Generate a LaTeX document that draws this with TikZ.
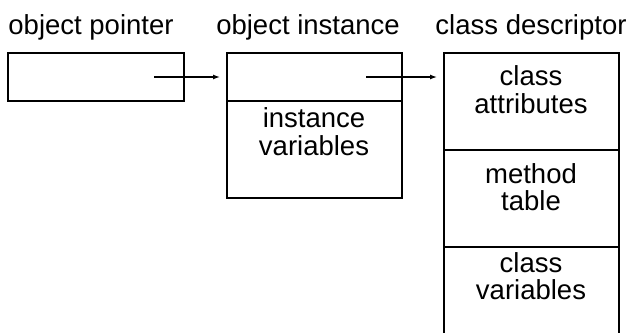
\documentclass[tikz,border=0pt]{standalone}
\usepackage{fontspec}
\setmainfont{Liberation Sans}
\usetikzlibrary{arrows.meta}
\begin{document}
\begin{tikzpicture}[x=1pt,y=-1pt,
  box/.style={draw,line width=1.8pt,rectangle,inner sep=0pt,outer sep=0pt},
  txt/.style={inner sep=0pt,anchor=base,font=\fontsize{27.5}{28}\selectfont},
  ptr/.style={line width=1.3pt,-{Latex[length=7pt,width=5pt]},shorten >=7pt}]
\useasboundingbox (0,0) rectangle (634,332);
\clip (0,0) rectangle (634,332);
% titles
\node[txt] (t1) at (91,34) {object pointer};
\node[txt] (t2) at (308,34) {object instance};
\node[txt] (t3) at (531,34) {class descriptor};
% object pointer box
\node[box,minimum width=176pt,minimum height=48pt] (p) at (96,77) {};
% object instance
\node[box,minimum width=175pt,minimum height=48pt] (i1) at (314.5,77) {};
\node[box,minimum width=175pt,minimum height=97pt] (i2) at (314.5,149.5) {};
% class descriptor
\node[box,minimum width=175pt,minimum height=97pt] (c1) at (531.5,101.5) {};
\node[box,minimum width=175pt,minimum height=97pt] (c2) at (531.5,198.5) {};
\node[box,minimum width=175pt,minimum height=97pt] (c3) at (531.5,295.5) {};
% texts
\node[txt] (iv1) at (314,127) {instance};
\node[txt] (iv2) at (314,155) {variables};
\node[txt] (ca1) at (531,85) {class};
\node[txt] (ca2) at (531,113) {attributes};
\node[txt] (mt1) at (531,183) {method};
\node[txt] (mt2) at (531,210) {table};
\node[txt] (cv1) at (531,272) {class};
\node[txt] (cv2) at (531,299) {variables};
% arrows
\coordinate (s1) at (154,77);
\coordinate (s2) at (366,77);
\draw[ptr] (s1) -- (i1.west);
\draw[ptr] (s2) -- (c1.west |- s2);
\end{tikzpicture}
\end{document}
